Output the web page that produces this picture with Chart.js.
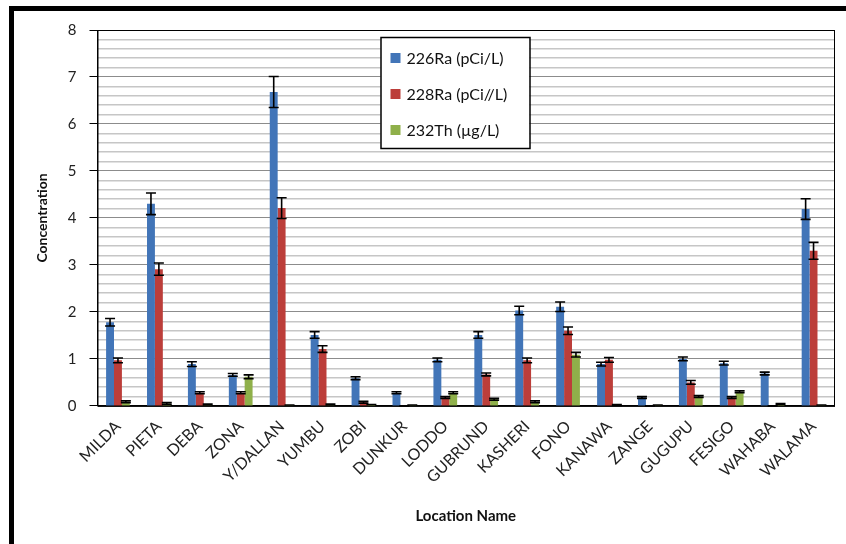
<!DOCTYPE html>
<html>
<head>
<meta charset="utf-8">
<script src="https://cdn.jsdelivr.net/npm/chart.js@4"></script>
<style>
  html, body { margin: 0; padding: 0; background: #fff; }
  #wrap { position: relative; width: 846px; height: 544px; }
</style>
</head>
<body>
<div id="wrap"><canvas id="chart" width="846" height="544"></canvas></div>
<script>
// location names on the x axis
const locations = ['MILDA', 'PIETA', 'DEBA', 'ZONA', 'Y/DALLAN', 'YUMBU', 'ZOBI', 'DUNKUR', 'LODDO',
    'GUBRUND', 'KASHERI', 'FONO', 'KANAWA', 'ZANGE', 'GUGUPU', 'FESIGO', 'WAHABA', 'WALAMA'];

// series values
const ra226 = [1.78, 4.30, 0.89, 0.66, 6.68, 1.51, 0.59, 0.28, 0.98, 1.51, 2.03, 2.11, 0.89, 0.18, 1.00, 0.91, 0.69, 4.19];
const ra228 = [0.97, 2.91, 0.28, 0.28, 4.21, 1.21, 0.08, 0.00, 0.18, 0.67, 0.97, 1.60, 0.98, 0.00, 0.50, 0.18, 0.00, 3.30];
const th232 = [0.09, 0.05, 0.03, 0.62, 0.02, 0.03, 0.03, 0.02, 0.28, 0.14, 0.09, 1.09, 0.02, 0.02, 0.20, 0.30, 0.04, 0.02];

// error bar half-widths
const ra226Err = [0.08, 0.23, 0.05, 0.03, 0.33, 0.07, 0.03, 0.02, 0.04, 0.07, 0.09, 0.10, 0.04, 0.02, 0.04, 0.04, 0.03, 0.22];
const ra228Err = [0.05, 0.13, 0.02, 0.02, 0.22, 0.07, 0.02, 0.00, 0.02, 0.03, 0.05, 0.08, 0.05, 0.00, 0.04, 0.02, 0.00, 0.18];
const th232Err = [0.02, 0.02, 0.01, 0.04, 0.00, 0.01, 0.00, 0.00, 0.02, 0.02, 0.02, 0.05, 0.01, 0.00, 0.02, 0.02, 0.01, 0.00];

const seriesLabels = ['226Ra (pCi/L)', '228Ra (pCi//L)', '232Th (\u00b5g/L)'];
const seriesColors = ['#4275b8', '#bc3e3a', '#8fb04a'];

const FONT = 'Lato, "Open Sans", sans-serif';

// black frame around the figure + border of the plot area
const framePlugin = {
    id: 'frame',
    beforeDraw(chart) {
        const c = chart.ctx;
        c.save();
        c.fillStyle = '#fff';
        c.fillRect(0, 0, chart.width, chart.height);
        c.fillStyle = '#000';
        c.fillRect(9, 6, 5, chart.height - 6);
        c.fillRect(9, 6, chart.width - 9, 5);
        c.restore();
    },
    afterDatasetsDraw(chart) {
        const c = chart.ctx;
        const a = chart.chartArea;
        c.save();
        c.strokeStyle = '#000';
        c.lineWidth = 1;
        c.strokeRect(a.left + 0.5, a.top + 0.5, a.right - a.left, a.bottom - a.top);
        c.restore();
    }
};

// error bars
const errorBarPlugin = {
    id: 'errorBars',
    afterDatasetsDraw(chart) {
        const c = chart.ctx;
        const y = chart.scales.y;
        c.save();
        c.strokeStyle = '#000';
        c.lineWidth = 1.6;
        chart.data.datasets.forEach((ds, di) => {
            const meta = chart.getDatasetMeta(di);
            meta.data.forEach((bar, i) => {
                const v = ds.data[i];
                const e = ds.errors[i];
                const top = y.getPixelForValue(v + e);
                const bot = y.getPixelForValue(Math.max(v - e, 0));
                const hw = 5;
                c.beginPath();
                c.moveTo(bar.x, top); c.lineTo(bar.x, bot);
                c.moveTo(bar.x - hw, top); c.lineTo(bar.x + hw, top);
                c.moveTo(bar.x - hw, bot); c.lineTo(bar.x + hw, bot);
                c.stroke();
            });
        });
        c.restore();
    }
};

// boxed legend inside the plot area
const boxLegendPlugin = {
    id: 'boxLegend',
    afterDraw(chart) {
        const c = chart.ctx;
        const a = chart.chartArea;
        const x0 = a.left + 283, y0 = 37, w = 149, h = 111;
        c.save();
        c.fillStyle = '#fff';
        c.fillRect(x0, y0, w, h);
        c.strokeStyle = '#000';
        c.lineWidth = 1.5;
        c.strokeRect(x0 + 0.5, y0 + 0.5, w, h);
        c.font = '16px ' + FONT;
        c.textBaseline = 'middle';
        chart.data.datasets.forEach((ds, i) => {
            const cy = y0 + 21 + i * 36;
            c.fillStyle = ds.backgroundColor;
            c.fillRect(x0 + 10, cy - 5, 10, 10);
            c.fillStyle = '#111';
            c.fillText(ds.label, x0 + 26, cy + 1);
        });
        c.restore();
    }
};

const isMajor = v => Math.abs(v - Math.round(v)) < 1e-6;

new Chart(document.getElementById('chart'), {
    type: 'bar',
    data: {
        labels: locations,
        datasets: [
            { label: seriesLabels[0], data: ra226, errors: ra226Err, backgroundColor: seriesColors[0] },
            { label: seriesLabels[1], data: ra228, errors: ra228Err, backgroundColor: seriesColors[1] },
            { label: seriesLabels[2], data: th232, errors: th232Err, backgroundColor: seriesColors[2] }
        ]
    },
    options: {
        responsive: false,
        animation: false,
        layout: { padding: { left: 30, right: 12, top: 30, bottom: 15 } },
        datasets: { bar: { categoryPercentage: 0.58, barPercentage: 1.0 } },
        plugins: {
            legend: { display: false },
            tooltip: { enabled: false }
        },
        scales: {
            x: {
                grid: { display: false },
                border: { color: '#000', width: 1 },
                ticks: {
                    color: '#222',
                    font: { family: FONT, size: 16 },
                    maxRotation: 45,
                    minRotation: 45,
                    autoSkip: false
                },
                title: {
                    display: true,
                    text: 'Location Name',
                    color: '#111',
                    font: { family: FONT, size: 15, weight: 'bold' },
                    padding: { top: 17 }
                }
            },
            y: {
                min: 0,
                max: 8,
                border: { color: '#000', width: 1 },
                grid: {
                    color: ctx => isMajor(ctx.tick.value) ? '#8c8c8c' : '#c6c6c6',
                    lineWidth: ctx => isMajor(ctx.tick.value) ? 1 : 1.4,
                    tickColor: ctx => isMajor(ctx.tick.value) ? '#000' : 'rgba(0,0,0,0)',
                    tickLength: 8
                },
                ticks: {
                    stepSize: 0.2,
                    autoSkip: false,
                    padding: 13,
                    color: '#222',
                    font: { family: FONT, size: 15 },
                    callback: v => isMajor(v) ? String(Math.round(v)) : ''
                },
                title: {
                    display: true,
                    text: 'Concentration',
                    color: '#111',
                    font: { family: FONT, size: 14, weight: 'bold' },
                    padding: { bottom: 4 }
                }
            }
        }
    },
    plugins: [framePlugin, errorBarPlugin, boxLegendPlugin]
});
</script>
</body>
</html>
